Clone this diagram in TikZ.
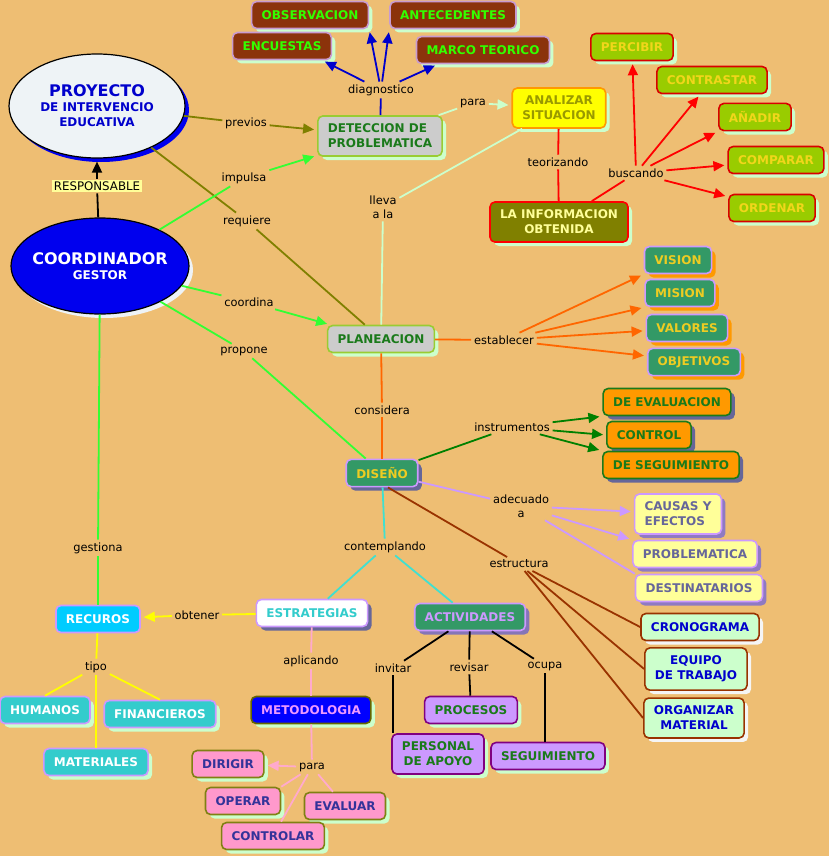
\documentclass[tikz,border=0pt]{standalone}
\usepackage{fontspec}
\setmainfont{DejaVu Sans}
\usetikzlibrary{arrows.meta,shapes.geometric,shadows}

\definecolor{fondo}{HTML}{EEBE73}
\definecolor{menta}{HTML}{CCFFCC}
\definecolor{lila}{HTML}{CC99FF}
\definecolor{malva}{HTML}{C89BD0}
\definecolor{marron}{HTML}{8B330B}
\definecolor{verdeluz}{HTML}{33FF00}
\definecolor{gris}{HTML}{CCCCCC}
\definecolor{pasto}{HTML}{99CC33}
\definecolor{verdeosc}{HTML}{1A7A1A}
\definecolor{naranja}{HTML}{FF9900}
\definecolor{oliva}{HTML}{808000}
\definecolor{amarillo}{HTML}{FFFF00}
\definecolor{ocre}{HTML}{999900}
\definecolor{limon}{HTML}{99CC00}
\definecolor{oro}{HTML}{EECC22}
\definecolor{esmeralda}{HTML}{339966}
\definecolor{pizarra}{HTML}{666699}
\definecolor{crema}{HTML}{FFFF99}
\definecolor{ladrillo}{HTML}{993300}
\definecolor{azulosc}{HTML}{0000CC}
\definecolor{turquesa}{HTML}{33CCCC}
\definecolor{celeste}{HTML}{00CCFF}
\definecolor{rosa}{HTML}{FF99CC}
\definecolor{rosatexto}{HTML}{EE99FF}
\definecolor{indigo}{HTML}{333399}
\definecolor{purpura}{HTML}{800080}
\definecolor{cian}{HTML}{40E0D0}
\definecolor{rosalinea}{HTML}{FFAACC}
\definecolor{naranjalinea}{HTML}{FF6600}
\definecolor{verdelinea}{HTML}{33FF33}
\definecolor{verdefuerte}{HTML}{008000}
\definecolor{nube}{HTML}{EEF3F6}
\definecolor{azul}{HTML}{0000EE}

\tikzset{sombra/.style={drop shadow={shadow xshift=4pt,shadow yshift=-4pt,opacity=1,fill=#1}}}

\begin{document}
\begin{tikzpicture}[
                        x=1pt,
                        y=-1pt,
                        >={Triangle[length=11pt,width=10pt]},
                        line width=1.8pt
                    ]
                    \tikzstyle{concepto}=[rectangle,rounded corners=5pt,draw,line width=1.6pt,align=center,inner xsep=10pt,inner ysep=8pt,minimum height=27pt,font=\bfseries\fontsize{12}{15}\selectfont]
                    \tikzstyle{globo}=[ellipse,draw=black,line width=1.2pt,align=center,inner xsep=-8pt,inner ysep=0pt,font=\bfseries\fontsize{12}{15}\selectfont]
                    \tikzstyle{enlace}=[font=\fontsize{11.4}{14}\selectfont,inner sep=2pt,align=center]
                    \tikzstyle{flecha}=[->,shorten >=3pt]
                    \tikzstyle{cmarron}=[concepto,fill=marron,draw=malva,text=verdeluz,sombra=menta]
                    \tikzstyle{cgris}=[concepto,fill=gris,draw=pasto,text=verdeosc,sombra=menta]
                    \tikzstyle{camarillo}=[concepto,fill=amarillo,draw=naranja,text=ocre,sombra=menta]
                    \tikzstyle{coliva}=[concepto,fill=oliva,draw=red,text=crema,sombra=menta]
                    \tikzstyle{climon}=[concepto,fill=limon,draw=red!85!black,text=oro!80!yellow,sombra=menta]
                    \tikzstyle{cesmeralda}=[concepto,fill=esmeralda,draw=lila,text=oro,sombra=naranja]
                    \tikzstyle{cnaranja}=[concepto,fill=naranja,draw=verdeosc,text=verdeosc,sombra=pizarra]
                    \tikzstyle{cdiseno}=[concepto,fill=esmeralda,draw=lila,text=oro,sombra=pizarra]
                    \tikzstyle{ccrema}=[concepto,fill=crema,draw=lila,text=pizarra,sombra=pizarra!60!lila]
                    \tikzstyle{cmenta}=[concepto,fill=menta,draw=ladrillo,text=azulosc,sombra=white!92!gray]
                    \tikzstyle{cblanco}=[concepto,fill=white,draw=lila,text=turquesa,sombra=pizarra]
                    \tikzstyle{cactiv}=[concepto,fill=esmeralda,draw=lila,text=lila,sombra=pizarra!70!lila]
                    \tikzstyle{crecurso}=[concepto,fill=celeste,draw=lila,text=white]
                    \tikzstyle{cturquesa}=[concepto,fill=turquesa,draw=lila,text=white,sombra=menta]
                    \tikzstyle{cmetodo}=[concepto,fill=blue,draw=oliva!80!black,text=rosatexto,sombra=menta]
                    \tikzstyle{crosa}=[concepto,fill=rosa,draw=oliva!85!gray,text=indigo,sombra=menta]
                    \tikzstyle{clila}=[concepto,fill=lila,draw=purpura,text=verdeosc,sombra=menta]

                    \fill[fondo] (0,0) rectangle (829,856);
                    \useasboundingbox (0,0) rectangle (829,856);

                    % conceptos principales
                    \node[globo,fill=nube,minimum width=176pt,minimum height=104pt,sombra=azul,text=azulosc]
                        (proyecto) at (97,106) {{\fontsize{16}{15}\selectfont PROYECTO}\\DE INTERVENCIO\\EDUCATIVA} ;
                    \node[globo,fill=azul,minimum width=178pt,minimum height=96pt,sombra=nube,text=white]
                        (coordinador) at (100,266) {{\fontsize{16}{15}\selectfont COORDINADOR}\\GESTOR} ;
                    \node[enlace,fill=crema,font=\fontsize{11.8}{14}\selectfont] (responsable) at (97,186) {RESPONSABLE} ;

                    \node[cmarron]          (observacion)   at (310,15)  {OBSERVACION} ;
                    \node[cmarron]          (antecedentes)  at (453,15)  {ANTECEDENTES} ;
                    \node[cmarron]          (encuestas)     at (282,46)  {ENCUESTAS} ;
                    \node[cmarron]          (marco)         at (483,50)  {MARCO TEORICO} ;
                    \node[cgris,align=left] (deteccion)     at (380,136) {DETECCION DE\\PROBLEMATICA} ;
                    \node[camarillo]        (analizar)      at (559,108) {ANALIZAR\\SITUACION} ;
                    \node[coliva]           (informacion)   at (559,222) {LA INFORMACION\\OBTENIDA} ;
                    \node[climon]           (percibir)      at (632,47)  {PERCIBIR} ;
                    \node[climon]           (contrastar)    at (712,80)  {CONTRASTAR} ;
                    \node[climon]           (anadir)        at (755,117) {AÑADIR} ;
                    \node[climon]           (comparar)      at (776,160) {COMPARAR} ;
                    \node[climon]           (ordenar)       at (772,208) {ORDENAR} ;
                    \node[cgris]            (planeacion)    at (381,339) {PLANEACION} ;
                    \node[cesmeralda]       (vision)        at (678,260) {VISION} ;
                    \node[cesmeralda]       (mision)        at (680,293) {MISION} ;
                    \node[cesmeralda]       (valores)       at (687,328) {VALORES} ;
                    \node[cesmeralda]       (objetivos)     at (694,362) {OBJETIVOS} ;
                    \node[cdiseno]          (diseno)        at (382,473) {DISEÑO} ;
                    \node[cnaranja]         (evaluacion)    at (667,402) {DE EVALUACION} ;
                    \node[cnaranja]         (control)       at (649,435) {CONTROL} ;
                    \node[cnaranja]         (deseguimiento) at (671,465) {DE SEGUIMIENTO} ;
                    \node[ccrema,align=left] (causas)       at (678,514) {CAUSAS Y\\EFECTOS} ;
                    \node[ccrema]           (problematica)  at (695,554) {PROBLEMATICA} ;
                    \node[ccrema]           (destinatarios) at (699,588) {DESTINATARIOS} ;
                    \node[cmenta]           (cronograma)    at (700,627) {CRONOGRAMA} ;
                    \node[cmenta]           (equipo)        at (696,669) {EQUIPO\\DE TRABAJO} ;
                    \node[cmenta]           (organizar)     at (694,718) {ORGANIZAR\\MATERIAL} ;
                    \node[cblanco]          (estrategias)   at (312,613) {ESTRATEGIAS} ;
                    \node[cactiv]           (actividades)   at (470,617) {ACTIVIDADES} ;
                    \node[crecurso]         (recursos)      at (98,619)  {RECUROS} ;
                    \node[cturquesa]        (humanos)       at (45,710)  {HUMANOS} ;
                    \node[cturquesa]        (financieros)   at (160,714) {FINANCIEROS} ;
                    \node[cturquesa]        (materiales)    at (96,762)  {MATERIALES} ;
                    \node[cmetodo]          (metodologia)   at (311,710) {METODOLOGIA} ;
                    \node[crosa]            (dirigir)       at (228,764) {DIRIGIR} ;
                    \node[crosa]            (operar)        at (243,801) {OPERAR} ;
                    \node[crosa]            (evaluar)       at (345,806) {EVALUAR} ;
                    \node[crosa]            (controlar)     at (273,836) {CONTROLAR} ;
                    \node[clila]            (procesos)      at (471,710) {PROCESOS} ;
                    \node[clila]            (personal)      at (438,754) {PERSONAL\\DE APOYO} ;
                    \node[clila]            (seguimiento)   at (548,756) {SEGUIMIENTO} ;

                    % palabras de enlace
                    \node[enlace] (previos)      at (246,123) {previos} ;
                    \node[enlace] (impulsa)      at (244,178) {impulsa} ;
                    \node[enlace] (requiere)     at (247,221) {requiere} ;
                    \node[enlace] (coordina)     at (249,302) {coordina} ;
                    \node[enlace] (propone)      at (244,351) {propone} ;
                    \node[enlace] (gestiona)     at (98,548)  {gestiona} ;
                    \node[enlace] (diagnostico)  at (381,90)  {diagnostico} ;
                    \node[enlace] (para1)        at (473,103) {para} ;
                    \node[enlace] (lleva)        at (383,207) {lleva\\a la} ;
                    \node[enlace] (teorizando)   at (558,162) {teorizando} ;
                    \node[enlace] (buscando)     at (636,173) {buscando} ;
                    \node[enlace] (establecer)   at (504,340) {establecer} ;
                    \node[enlace] (considera)    at (382,410) {considera} ;
                    \node[enlace] (instrumentos) at (512,427) {instrumentos} ;
                    \node[enlace] (adecuado)     at (521,506) {adecuado\\a} ;
                    \node[enlace] (contemplando) at (385,547) {contemplando} ;
                    \node[enlace] (estructura)   at (519,564) {estructura} ;
                    \node[enlace] (obtener)      at (197,615) {obtener} ;
                    \node[enlace] (tipo)         at (96,667)  {tipo} ;
                    \node[enlace] (aplicando)    at (311,661) {aplicando} ;
                    \node[enlace] (para2)        at (312,767) {para} ;
                    \node[enlace] (invitar)      at (393,668) {invitar} ;
                    \node[enlace] (revisar)      at (469,667) {revisar} ;
                    \node[enlace] (ocupa)        at (545,666) {ocupa} ;

                    % conectores
                    \path[black]
                    (coordinador) edge               (responsable)
                    (responsable) edge [flecha]      (proyecto) ;

                    \path[oliva]
                    (proyecto)    edge               (previos)
                    (previos)     edge [flecha]      (deteccion)
                    (proyecto)    edge               (requiere)
                    (requiere)    edge               (planeacion) ;

                    \path[verdelinea]
                    (coordinador) edge               (impulsa)
                    (impulsa)     edge [flecha]      (deteccion)
                    (coordinador) edge               (coordina)
                    (coordina)    edge [flecha]      (planeacion)
                    (coordinador) edge               (propone)
                    (propone)     edge               (diseno)
                    (coordinador) edge               (gestiona)
                    (gestiona)    edge               (recursos) ;

                    \path[azulosc]
                    (deteccion)   edge               (diagnostico)
                    (diagnostico) edge [flecha]      ([xshift=-10pt]encuestas.south east)
                    (diagnostico) edge [flecha]      (observacion.south east)
                    (diagnostico) edge [flecha]      (antecedentes.south west)
                    (diagnostico) edge [flecha]      ([xshift=22pt]marco.south west) ;

                    \path[menta]
                    (deteccion)   edge               (para1)
                    (para1)       edge [flecha]      (analizar)
                    (analizar)    edge               (lleva)
                    (lleva)       edge               (planeacion) ;

                    \path[red]
                    (analizar)    edge               (teorizando)
                    (teorizando)  edge               (informacion)
                    (informacion) edge               (buscando)
                    (buscando)    edge [flecha]      (percibir)
                    (buscando)    edge [flecha]      (contrastar)
                    (buscando)    edge [flecha]      (anadir.south west)
                    (buscando)    edge [flecha]      ([yshift=-5pt]comparar.west)
                    (buscando)    edge [flecha]      ([yshift=-3pt]ordenar.north west) ;

                    \path[naranjalinea]
                    (planeacion)  edge               (establecer)
                    (establecer)  edge [flecha]      (vision.south west)
                    (establecer)  edge [flecha]      (mision.south west)
                    (establecer)  edge [flecha]      (valores)
                    (establecer)  edge [flecha]      ([yshift=6pt]objetivos.west)
                    (planeacion)  edge               (considera)
                    (considera)   edge               (diseno) ;

                    \path[verdefuerte]
                    (diseno)       edge              (instrumentos)
                    (instrumentos) edge [flecha]     (evaluacion.south west)
                    (instrumentos) edge [flecha]     (control.west)
                    (instrumentos) edge [flecha]     (deseguimiento.north west) ;

                    \path[lila]
                    (diseno)      edge               (adecuado)
                    (adecuado)    edge [flecha]      (causas)
                    (adecuado)    edge [flecha]      (problematica.north west)
                    (adecuado)    edge               (destinatarios.north west) ;

                    \path[ladrillo]
                    ([xshift=6pt]diseno.south) edge  (estructura)
                    (estructura)  edge               (cronograma.west)
                    (estructura)  edge               (equipo.west)
                    (estructura)  edge               (organizar.west) ;

                    \path[cian]
                    (diseno)       edge              (contemplando)
                    (contemplando) edge              (estrategias)
                    (contemplando) edge              (actividades) ;

                    \path[amarillo]
                    (estrategias) edge               (obtener)
                    (obtener)     edge [flecha]      (recursos)
                    (recursos)    edge               (tipo)
                    (tipo)        edge               (humanos.north)
                    (tipo)        edge               (financieros.north)
                    (tipo)        edge               (materiales) ;

                    \path[rosalinea]
                    (estrategias) edge               (aplicando)
                    (aplicando)   edge               (metodologia)
                    (metodologia) edge               (para2)
                    (para2)       edge [flecha]      (dirigir)
                    (para2)       edge               (operar.north east)
                    (para2)       edge               (controlar)
                    (para2)       edge               (evaluar) ;

                    \path[black]
                    (actividades) edge               (invitar)
                    (invitar)     edge               (invitar |- personal.north)
                    (actividades) edge               (revisar)
                    (revisar)     edge               (procesos)
                    (actividades) edge               (ocupa)
                    (ocupa)       edge               (ocupa |- seguimiento.north) ;

                \end{tikzpicture}
\end{document}
